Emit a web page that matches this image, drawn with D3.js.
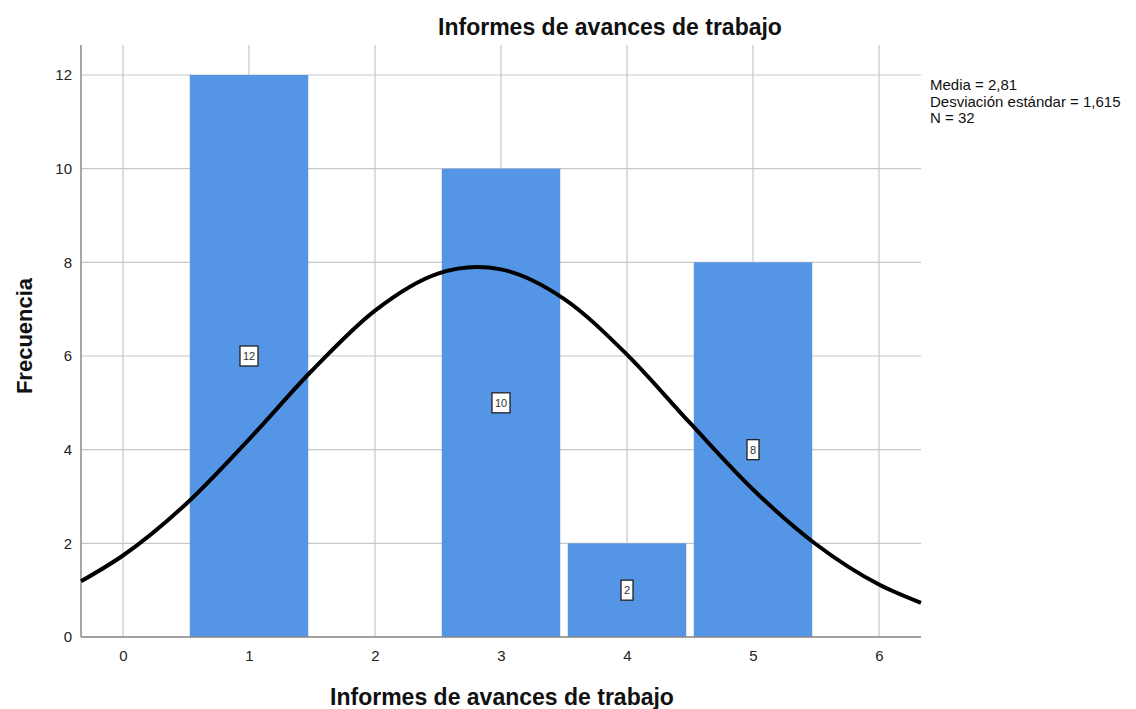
<!DOCTYPE html>
<html>
<head>
  <meta charset="utf-8">
  <title>Informes de avances de trabajo</title>
  <script src="https://d3js.org/d3.v7.min.js"></script>
  <style>
    body { margin: 0; background: #fff; }
    text { font-family: "Liberation Sans", Arial, sans-serif; }
  </style>
</head>
<body>
<script>
  // datos del histograma
  var categories = [1, 2, 3, 4, 5];
  var counts = [12, 0, 10, 2, 8];
  var xTicks = [0, 1, 2, 3, 4, 5, 6];
  var yTicks = [0, 2, 4, 6, 8, 10, 12];
  // curva normal (x, frecuencia)
  var curveX = [-0.333, 0, 0.5, 1, 1.5, 2, 2.5, 2.81, 3, 3.5, 4, 4.5, 5, 5.5, 6, 6.333];
  var curveY = [1.19, 1.74, 2.84, 4.22, 5.69, 6.97, 7.76, 7.90, 7.85, 7.22, 6.03, 4.57, 3.15, 1.98, 1.12, 0.73];
  var stats = ["Media = 2,81", "Desviación estándar = 1,615", "N = 32"];
  var title = "Informes de avances de trabajo";

  var width = 1136, height = 709;
  var mLeft = 81, mRight = 921, mTop = 45, mBottom = 637;

  var svg = d3.select("body").append("svg").attr("width", width).attr("height", height);

  var x = d3.scaleLinear().domain([-1 / 3, 19 / 3]).range([mLeft, mRight]);
  var y = d3.scaleLinear().domain([0, 12]).range([mBottom, 75]);

  // rejilla
  svg.append("g").selectAll("line").data(xTicks).enter().append("line")
    .attr("x1", function (d) { return x(d); }).attr("x2", function (d) { return x(d); })
    .attr("y1", mTop).attr("y2", mBottom)
    .attr("stroke", "#c8c8c8").attr("stroke-width", 1.2);
  svg.append("g").selectAll("line").data(yTicks).enter().append("line")
    .attr("x1", mLeft).attr("x2", mRight)
    .attr("y1", function (d) { return y(d); }).attr("y2", function (d) { return y(d); })
    .attr("stroke", "#c8c8c8").attr("stroke-width", 1.2);

  // barras
  var data = categories.map(function (c, i) { return { c: c, n: counts[i] }; }).filter(function (d) { return d.n > 0; });
  svg.append("g").selectAll("rect").data(data).enter().append("rect")
    .attr("x", function (d) { return x(d.c - 0.47); })
    .attr("width", x(0.94) - x(0))
    .attr("y", function (d) { return y(d.n); })
    .attr("height", function (d) { return y(0) - y(d.n); })
    .attr("fill", "#5595e5");

  // ejes
  svg.append("line").attr("x1", mLeft).attr("x2", mLeft).attr("y1", mTop).attr("y2", mBottom)
    .attr("stroke", "#8a8a8a").attr("stroke-width", 1.5);
  svg.append("line").attr("x1", mLeft).attr("x2", mRight).attr("y1", mBottom).attr("y2", mBottom)
    .attr("stroke", "#8a8a8a").attr("stroke-width", 1.5);

  var xAxis = svg.append("g").attr("transform", "translate(0," + mBottom + ")")
    .call(d3.axisBottom(x).tickValues(xTicks).tickFormat(d3.format("d")).tickSize(0).tickPadding(13));
  var yAxis = svg.append("g").attr("transform", "translate(" + mLeft + ",0)")
    .call(d3.axisLeft(y).tickValues(yTicks).tickFormat(d3.format("d")).tickSize(0).tickPadding(9));
  [xAxis, yAxis].forEach(function (a) {
    a.select(".domain").remove();
    a.selectAll("text").attr("font-size", 15).attr("fill", "#222")
      .attr("font-family", "Liberation Sans, Arial, sans-serif");
  });

  // curva normal
  var line = d3.line()
    .x(function (d) { return x(d[0]); })
    .y(function (d) { return y(d[1]); })
    .curve(d3.curveMonotoneX);
  svg.append("path").datum(curveX.map(function (v, i) { return [v, curveY[i]]; }))
    .attr("d", line).attr("fill", "none").attr("stroke", "#000").attr("stroke-width", 4);

  // etiquetas de valor
  var lab = svg.append("g").selectAll("g").data(data).enter().append("g")
    .attr("transform", function (d) { return "translate(" + x(d.c) + "," + y(d.n / 2) + ")"; });
  lab.append("rect")
    .attr("x", function (d) { return d.n >= 10 ? -9 : -6; })
    .attr("width", function (d) { return d.n >= 10 ? 18 : 12; })
    .attr("y", -10).attr("height", 20)
    .attr("fill", "#fff").attr("stroke", "#222").attr("stroke-width", 1.3);
  lab.append("text").attr("text-anchor", "middle").attr("dy", "0.35em")
    .attr("font-size", 11).attr("fill", "#333").text(function (d) { return d.n; });

  // titulos
  svg.append("text").attr("x", 610).attr("y", 35).attr("text-anchor", "middle")
    .attr("font-size", 23).attr("font-weight", "bold").attr("fill", "#111").text(title);
  svg.append("text").attr("x", 502).attr("y", 705).attr("text-anchor", "middle")
    .attr("font-size", 23).attr("font-weight", "bold").attr("fill", "#111").text(title);
  svg.append("text").attr("transform", "translate(32,336) rotate(-90)").attr("text-anchor", "middle")
    .attr("font-size", 22).attr("font-weight", "bold").attr("fill", "#111").text("Frecuencia");

  // estadisticos
  svg.append("g").selectAll("text").data(stats).enter().append("text")
    .attr("x", 930).attr("y", function (d, i) { return 90 + i * 16.5; })
    .attr("font-size", 15).attr("fill", "#111").text(function (d) { return d; });
</script>
</body>
</html>
